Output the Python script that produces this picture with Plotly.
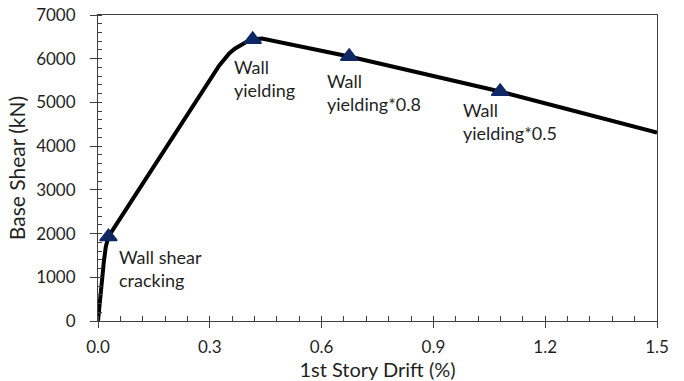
import plotly.graph_objects as go

# Pushover curve: first-story drift (%) vs. base shear (kN)
drift = [0, 0.005, 0.01, 0.016, 0.021, 0.028, 0.325,
         0.338, 0.352, 0.367, 0.383, 0.40, 0.415, 0.44,
         0.674, 0.88, 1.079, 1.5]
shear = [0, 480, 940, 1380, 1700, 1930, 5840,
         5990, 6120, 6230, 6320, 6395, 6440, 6460,
         6050, 5640, 5250, 4310]

# Damage-state events along the curve
event_drift = [0.028, 0.415, 0.674, 1.079]
event_shear = [1930, 6440, 6050, 5250]
event_labels = ["Wall shear<br>cracking", "Wall<br>yielding",
                "Wall<br>yielding*0.8", "Wall<br>yielding*0.5"]
# label offsets in pixels from each event marker
label_dx = [9, -21, -24, -39]
label_dy = [-32, -39, -36, -30]

x_ticks = [0.0, 0.3, 0.6, 0.9, 1.2, 1.5]
x_ticktext = ["0.0", "0.3", "0.6", "0.9", "1.2", "1.5"]
y_ticks = [0, 1000, 2000, 3000, 4000, 5000, 6000, 7000]
x_range = [0, 1.5]
y_range = [0, 7000]

FONT = "Lato, 'Open Sans', sans-serif"
TEXT = "#1f1f1f"
AXIS = "#404040"
MARK = "#0F2865"

fig = go.Figure()
fig.add_trace(go.Scatter(
    x=drift, y=shear, mode="lines",
    line=dict(color="black", width=4),
    showlegend=False, hoverinfo="skip",
))
# markers sit on a twin pair of axes (same ranges) that carries the
# inward half of the major ticks
fig.add_trace(go.Scatter(
    x=event_drift, y=event_shear, mode="markers",
    xaxis="x2", yaxis="y2",
    marker=dict(symbol="triangle-up", size=15, color=MARK,
                line=dict(color=MARK, width=1.5)),
    showlegend=False,
))

for xv, yv, txt, dx, dy in zip(event_drift, event_shear, event_labels,
                               label_dx, label_dy):
    fig.add_annotation(
        x=xv, y=yv, text=txt, showarrow=False,
        xanchor="left", yanchor="middle", align="left",
        xshift=dx, yshift=dy,
        font=dict(family=FONT, size=18, color=TEXT),
    )

fig.update_layout(
    width=684, height=381,
    margin=dict(l=98, r=27, t=15, b=60, autoexpand=False),
    paper_bgcolor="white", plot_bgcolor="white",
    font=dict(family=FONT, size=17, color=TEXT),
    showlegend=False,
    xaxis2=dict(
        overlaying="x", anchor="y2", side="bottom", range=x_range,
        automargin=False, showgrid=False, zeroline=False, showline=False,
        tickvals=x_ticks, ticks="inside", ticklen=5, tickcolor=AXIS,
        tickwidth=1, showticklabels=False,
    ),
    yaxis2=dict(
        overlaying="y", anchor="x2", side="left", range=y_range,
        automargin=False, showgrid=False, zeroline=False, showline=False,
        tickvals=y_ticks, ticks="inside", ticklen=3, tickcolor=AXIS,
        tickwidth=1, showticklabels=False,
    ),
)

fig.update_layout(xaxis=dict(
    range=x_range, tickvals=x_ticks, ticktext=x_ticktext,
    automargin=False,
    showgrid=False, zeroline=False,
    showline=True, linecolor=AXIS, linewidth=1, mirror=True,
    ticks="outside", ticklen=6, tickcolor=AXIS, tickwidth=1,
    minor=dict(ticks="inside", dtick=0.06, ticklen=5,
               tickcolor=AXIS, tickwidth=1, showgrid=False),
    tickfont=dict(family=FONT, size=17, color=TEXT),
    ticklabelstandoff=5,
    title=dict(text="1st Story Drift (%)", standoff=4,
               font=dict(family=FONT, size=20, color=TEXT)),
))
fig.update_layout(yaxis=dict(
    range=y_range, tickvals=y_ticks,
    automargin=False,
    showgrid=False, zeroline=False,
    showline=True, linecolor=AXIS, linewidth=1, mirror=True,
    ticks="outside", ticklen=7, tickcolor=AXIS, tickwidth=1,
    minor=dict(ticks="inside", dtick=200, ticklen=4,
               tickcolor=AXIS, tickwidth=1, showgrid=False),
    tickfont=dict(family=FONT, size=17, color=TEXT),
    ticklabelstandoff=11,
    title=dict(text="Base Shear (kN)", standoff=4,
               font=dict(family=FONT, size=21, color=TEXT)),
))

fig.write_html("out.html")
